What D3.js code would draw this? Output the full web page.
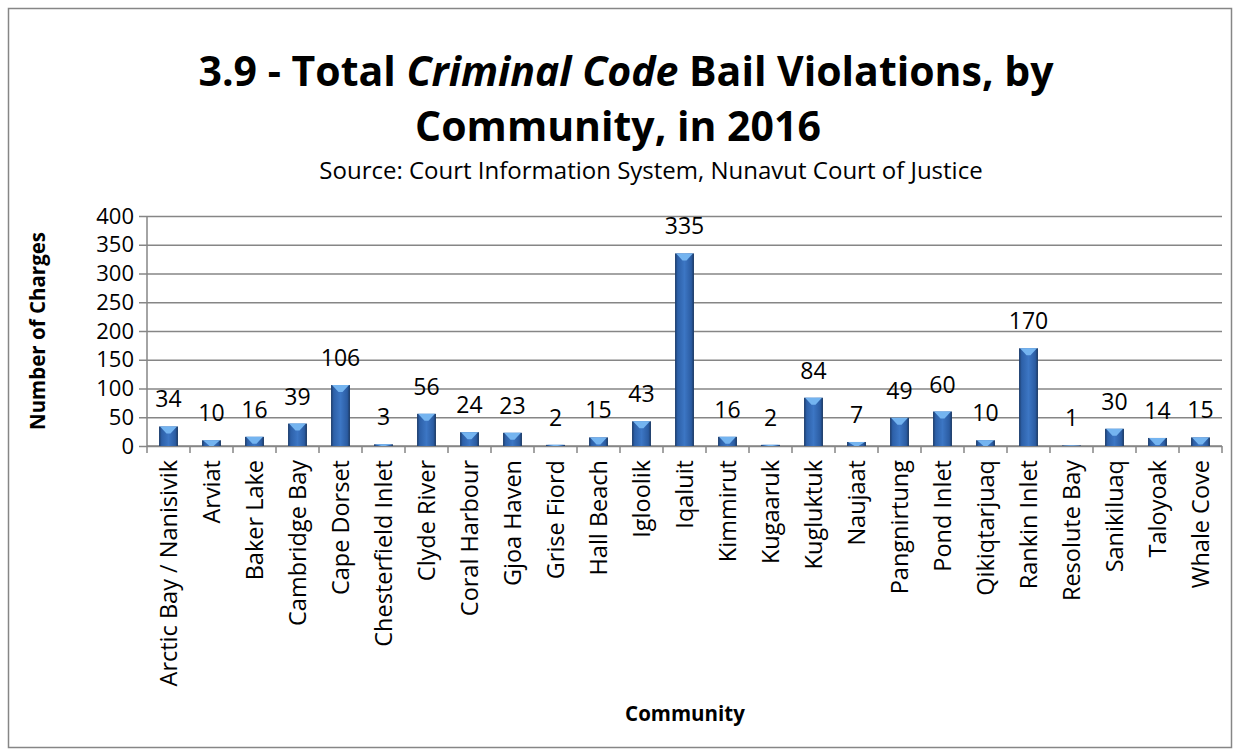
<!DOCTYPE html>
<html>
<head>
<meta charset="utf-8">
<script src="https://cdn.jsdelivr.net/npm/d3@7"></script>
<style>
  body { margin: 0; background: #fff; }
  text { font-family: "Open Sans", sans-serif; }
</style>
</head>
<body>
<div id="chart"></div>
<script>
// data
var communities = ["Arctic Bay / Nanisivik", "Arviat", "Baker Lake", "Cambridge Bay", "Cape Dorset",
  "Chesterfield Inlet", "Clyde River", "Coral Harbour", "Gjoa Haven", "Grise Fiord", "Hall Beach",
  "Igloolik", "Iqaluit", "Kimmirut", "Kugaaruk", "Kugluktuk", "Naujaat", "Pangnirtung", "Pond Inlet",
  "Qikiqtarjuaq", "Rankin Inlet", "Resolute Bay", "Sanikiluaq", "Taloyoak", "Whale Cove"]
var charges = [34, 10, 16, 39, 106, 3, 56, 24, 23, 2, 15, 43, 335, 16, 2, 84, 7, 49, 60, 10, 170, 1, 30, 14, 15]
var yTicks = [0, 50, 100, 150, 200, 250, 300, 350, 400]

var W = 1240, H = 756
var margin = {top: 216, right: 18, bottom: 310, left: 147}
var width = W - margin.left - margin.right,
    height = H - margin.top - margin.bottom

var svg = d3.select("#chart").append("svg")
    .attr("width", W)
    .attr("height", H)

// gradient for the bars (dark edges, lighter middle)
var defs = svg.append("defs")
var grad = defs.append("linearGradient").attr("id", "barGrad")
    .attr("x1", "0%").attr("x2", "100%").attr("y1", "0%").attr("y2", "0%")
grad.append("stop").attr("offset", "0%").attr("stop-color", "#1b3a68")
grad.append("stop").attr("offset", "14%").attr("stop-color", "#2d60a8")
grad.append("stop").attr("offset", "50%").attr("stop-color", "#3c76c4")
grad.append("stop").attr("offset", "86%").attr("stop-color", "#2b5ca2")
grad.append("stop").attr("offset", "100%").attr("stop-color", "#19365f")

// outer border
svg.append("rect")
    .attr("x", 8.5).attr("y", 8.5)
    .attr("width", W - 17).attr("height", H - 17)
    .attr("fill", "#fff").attr("stroke", "#868686").attr("stroke-width", 1.5)

// title
var title = svg.append("text")
    .attr("x", 626).attr("y", 86)
    .attr("text-anchor", "middle")
    .style("font-size", "41px").style("font-weight", "bold")
title.append("tspan").text("3.9 - Total ")
title.append("tspan").style("font-style", "italic").text("Criminal Code")
title.append("tspan").text(" Bail Violations, by")

svg.append("text")
    .attr("x", 618).attr("y", 141)
    .attr("text-anchor", "middle")
    .style("font-size", "41px").style("font-weight", "bold")
    .text("Community, in 2016")

svg.append("text")
    .attr("x", 651).attr("y", 179)
    .attr("text-anchor", "middle")
    .style("font-size", "24px")
    .text("Source: Court Information System, Nunavut Court of Justice")

var g = svg.append("g")
    .attr("transform", "translate(" + margin.left + "," + margin.top + ")")

var x = d3.scaleBand()
    .domain(communities)
    .range([0, width])
    .paddingInner(0.56)
    .paddingOuter(0.28)

var y = d3.scaleLinear()
    .domain([0, 400])
    .range([height, 0])

// y gridlines + axis
var yAxis = g.append("g")
    .call(d3.axisLeft(y).tickValues(yTicks).tickSize(-width).tickSizeOuter(0).tickPadding(13))
yAxis.select(".domain").remove()
yAxis.selectAll(".tick line")
    .attr("x1", -8)
    .attr("stroke", "#868686").attr("stroke-width", 1.5)
yAxis.selectAll(".tick text")
    .style("font-size", "22px").attr("fill", "#000")
    .style("font-family", "'Open Sans', sans-serif")

// y axis line
g.append("line")
    .attr("x1", 0).attr("x2", 0).attr("y1", 0).attr("y2", height)
    .attr("stroke", "#868686").attr("stroke-width", 1.5)

// x axis with ticks between bands
var xAxis = g.append("g").attr("transform", "translate(0," + height + ")")
xAxis.append("line")
    .attr("x1", 0).attr("x2", width)
    .attr("stroke", "#868686").attr("stroke-width", 1.5)
xAxis.selectAll(".sep")
    .data(d3.range(communities.length + 1))
    .enter().append("line")
    .attr("x1", function (i) { return i * width / communities.length })
    .attr("x2", function (i) { return i * width / communities.length })
    .attr("y1", 0).attr("y2", 7)
    .attr("stroke", "#868686").attr("stroke-width", 1.5)

xAxis.selectAll(".lbl")
    .data(communities)
    .enter().append("text")
    .attr("transform", function (d) {
      return "translate(" + (x(d) + x.bandwidth() / 2) + ",14) rotate(-90)"
    })
    .attr("text-anchor", "end")
    .attr("dy", "0.35em")
    .style("font-size", "23.5px")
    .text(function (d) { return d })

// bars
var bars = g.selectAll(".bar")
    .data(communities)
    .enter().append("g")

bars.append("rect")
    .attr("x", function (d) { return x(d) })
    .attr("y", function (d, i) { return y(charges[i]) })
    .attr("width", x.bandwidth())
    .attr("height", function (d, i) { return height - y(charges[i]) })
    .attr("fill", "url(#barGrad)")

// light bevel on top of each bar
bars.append("path")
    .attr("d", function (d, i) {
      var x0 = x(d), bw = x.bandwidth(), top = y(charges[i])
      var h = Math.min(7, height - top)
      return "M" + (x0 + 1) + "," + top + "L" + (x0 + bw - 1) + "," + top +
        "L" + (x0 + bw / 2 + 2) + "," + (top + h) + "L" + (x0 + bw / 2 - 2) + "," + (top + h) + "Z"
    })
    .attr("fill", "#74b4f0")

// value labels
g.selectAll(".val")
    .data(communities)
    .enter().append("text")
    .attr("x", function (d) { return x(d) + x.bandwidth() / 2 })
    .attr("y", function (d, i) { return y(charges[i]) - 19 })
    .attr("text-anchor", "middle")
    .style("font-size", "23px")
    .text(function (d, i) { return charges[i] })

// axis titles
svg.append("text")
    .attr("transform", "translate(45," + (margin.top + height / 2) + ") rotate(-90)")
    .attr("text-anchor", "middle")
    .style("font-size", "20.5px").style("font-weight", "bold")
    .text("Number of Charges")

svg.append("text")
    .attr("x", 685).attr("y", 721)
    .attr("text-anchor", "middle")
    .style("font-size", "20.5px").style("font-weight", "bold")
    .text("Community")
</script>
</body>
</html>
